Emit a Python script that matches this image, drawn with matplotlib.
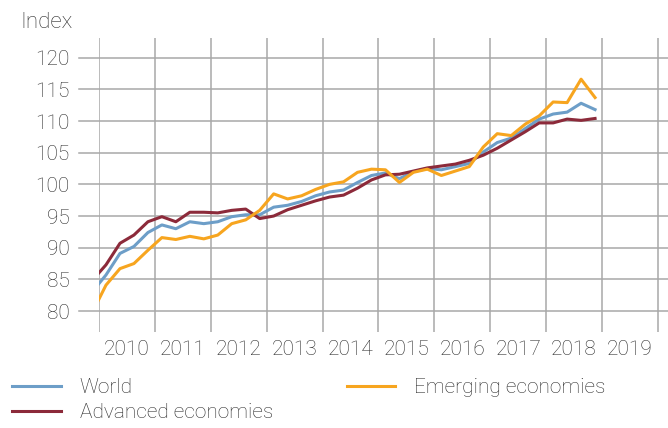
import matplotlib
matplotlib.use("Agg")
import matplotlib.pyplot as plt
from matplotlib.lines import Line2D

# quarterly index, 2009Q4 .. 2018Q4 (plotted at quarter midpoints, 2009Q4 clipped)
quarters = [2009.875 + 0.25 * i for i in range(37)]

world = [83.0, 85.7, 89.1, 90.2, 92.4, 93.6, 93.0, 94.1, 93.8, 94.1, 94.9, 95.2,
         95.2, 96.4, 96.7, 97.3, 98.2, 98.8, 99.1, 100.3, 101.4, 101.8, 100.9, 102.0,
         102.5, 102.3, 102.8, 103.3, 105.1, 106.6, 107.3, 108.8, 110.3, 111.1, 111.4,
         112.8, 111.8]
advanced = [84.8, 87.3, 90.7, 92.0, 94.1, 94.9, 94.1, 95.6, 95.6, 95.5, 95.9, 96.1,
            94.6, 95.0, 96.0, 96.7, 97.4, 98.0, 98.3, 99.4, 100.7, 101.5, 101.6, 102.1,
            102.6, 102.9, 103.2, 103.8, 104.6, 105.7, 107.0, 108.3, 109.7, 109.7, 110.3,
            110.1, 110.4]
emerging = [79.7, 84.1, 86.7, 87.5, 89.6, 91.6, 91.3, 91.8, 91.4, 92.0, 93.8, 94.4,
            95.9, 98.5, 97.7, 98.2, 99.2, 100.0, 100.4, 101.9, 102.4, 102.3, 100.3, 101.9,
            102.4, 101.4, 102.1, 102.8, 105.9, 108.0, 107.7, 109.5, 110.8, 113.0, 112.9,
            116.6, 113.7]

years = list(range(2010, 2020))
yticks = [80, 85, 90, 95, 100, 105, 110, 115, 120]

c_world = "#6d9ec8"
c_adv = "#8c2a3a"
c_em = "#f7a51f"
grid_c = "#a8a8a8"
txt_c = "#2b2b2b"

plt.rcParams["font.family"] = ["Roboto", "DejaVu Sans"]
plt.rcParams["font.weight"] = "light"
fs = 15
fs_text = 15

fig = plt.figure(figsize=(6.68, 4.28), dpi=100)
W, H = 668, 428
ax = fig.add_axes([99 / W, (H - 332) / H, (668 - 99) / W, (332 - 38) / H])

ax.set_xlim(2010, 2020.18)
ax.set_ylim(76.7, 123.1)

# vertical grid at year boundaries
for yr in years + [2020]:
    ax.axvline(yr, color=grid_c, lw=1.1, zorder=1)
# horizontal grid, extended a bit to the left
ext = 20 / (668 - 99)
for v in yticks:
    ax.axhline(v, xmin=-ext, xmax=1, color=grid_c, lw=1.1, zorder=1, clip_on=False)

ax.plot(quarters, world, color=c_world, lw=2.2, zorder=3)
ax.plot(quarters, advanced, color=c_adv, lw=2.2, zorder=4)
ax.plot(quarters, emerging, color=c_em, lw=2.2, zorder=5)

ax.set_yticks(yticks)
ax.set_yticklabels([str(v) for v in yticks], fontsize=fs, color=txt_c)
ax.set_xticks([y + 0.5 for y in years])
ax.set_xticklabels([str(y) for y in years], fontsize=fs, color=txt_c)
ax.tick_params(axis="y", length=0, pad=21)
ax.tick_params(axis="x", length=0, pad=6)
for s in ax.spines.values():
    s.set_visible(False)

fig.text(20 / W, 1 - 22 / H, "Index", fontsize=16, color=txt_c, va="center", ha="left")

handles = [Line2D([], [], color=c_world, lw=2.2),
           Line2D([], [], color=c_adv, lw=2.2),
           Line2D([], [], color=c_em, lw=2.2)]
labels = ["World", "Advanced economies", "Emerging economies"]
fig.legend(handles, labels, loc="upper left", bbox_to_anchor=(12.5 / W, 1 - 378 / H),
           ncol=2, frameon=False, fontsize=fs_text, handlelength=2.33,
           handletextpad=0.9, columnspacing=3.53, labelspacing=0.3,
           labelcolor=txt_c, borderaxespad=0.0, borderpad=0.0)

fig.savefig("out.png", dpi=100)
